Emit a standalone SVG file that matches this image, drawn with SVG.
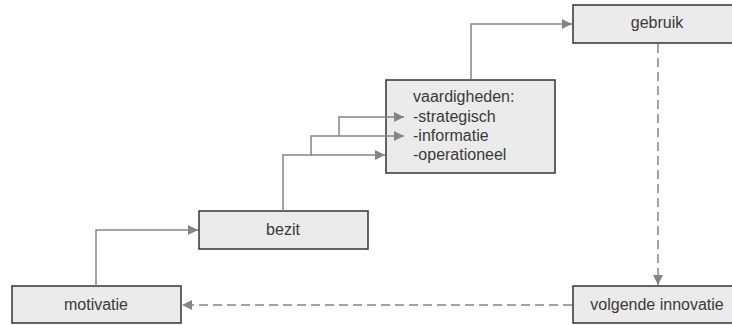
<svg xmlns="http://www.w3.org/2000/svg" width="732" height="325" viewBox="0 0 732 325">
  <style>
    .box { fill: #ebebeb; stroke: #333; stroke-width: 1.5; }
    .lbl { font-family: "Liberation Sans", Arial, sans-serif; font-size: 16px; fill: #3a3a3a; }
    .mid { text-anchor: middle; }
    .conn { fill: none; stroke: #858585; stroke-width: 1.5; }
    .dash { stroke-dasharray: 9 5; }
  </style>
  <defs>
    <marker id="arrow" viewBox="0 0 10 10" refX="10" refY="5" markerWidth="10" markerHeight="10" markerUnits="userSpaceOnUse" orient="auto">
      <path d="M0,0 L10,5 L0,10 Z" fill="#858585"/>
    </marker>
  </defs>

  <rect width="732" height="325" fill="#fff"/>

  <g id="motivatie">
    <rect class="box" x="12" y="286" width="169" height="37"/>
    <text class="lbl mid" x="96" y="310">motivatie</text>
  </g>

  <g id="bezit">
    <rect class="box" x="199" y="211" width="169" height="38"/>
    <text class="lbl mid" x="283" y="235">bezit</text>
  </g>

  <g id="vaardigheden">
    <rect class="box" x="386" y="80" width="169" height="93"/>
    <text class="lbl" x="413" y="102">vaardigheden:</text>
    <text class="lbl" x="413" y="122">-strategisch</text>
    <text class="lbl" x="413" y="141">-informatie</text>
    <text class="lbl" x="413" y="160">-operationeel</text>
  </g>

  <g id="gebruik">
    <rect class="box" x="573" y="5" width="170" height="38"/>
    <text class="lbl mid" x="657" y="28">gebruik</text>
  </g>

  <g id="volgende-innovatie">
    <rect class="box" x="573" y="286" width="170" height="37"/>
    <text class="lbl mid" x="657" y="310">volgende innovatie</text>
  </g>

  <!-- connectors drawn last so the two skill arrows show inside the box -->
  <g id="connectors">
    <!-- motivatie to bezit -->
    <path class="conn" d="M96,286 V230 H198" marker-end="url(#arrow)"/>
    <!-- bezit to the three skill lines -->
    <path class="conn" d="M283,211 V155 H385" marker-end="url(#arrow)"/>
    <path class="conn" d="M311,155 V136 H404" marker-end="url(#arrow)"/>
    <path class="conn" d="M339,136 V117 H404" marker-end="url(#arrow)"/>
    <!-- vaardigheden to gebruik -->
    <path class="conn" d="M471,79 V24 H572" marker-end="url(#arrow)"/>
    <!-- gebruik to volgende innovatie (dashed) -->
    <path class="conn dash" d="M658,44 V285" marker-end="url(#arrow)"/>
    <!-- volgende innovatie back to motivatie (dashed) -->
    <path class="conn dash" d="M572,305 H182" marker-end="url(#arrow)"/>
  </g>
</svg>
